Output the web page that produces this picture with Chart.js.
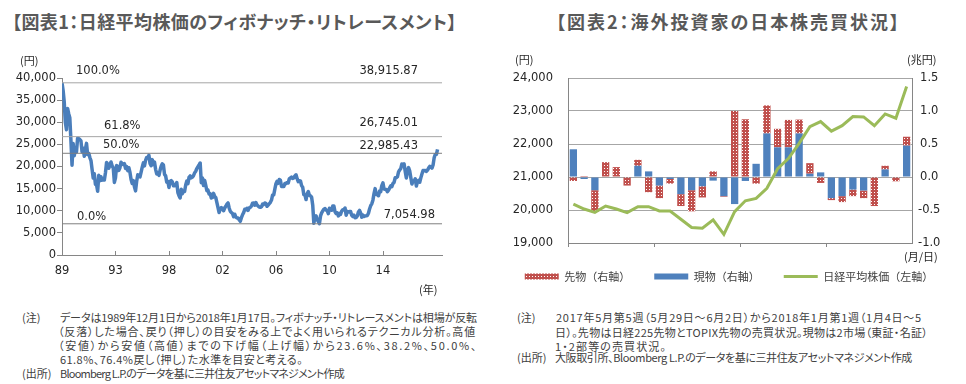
<!DOCTYPE html>
<html>
<head>
<meta charset="utf-8">
<script src="https://cdn.jsdelivr.net/npm/chart.js@4.4.1/dist/chart.umd.min.js"></script>
<style>
  body { margin:0; width:966px; height:384px; position:relative; overflow:hidden; background:#fff;
         font-family:"Noto Sans CJK JP", sans-serif; color:#404040; }
  .t { position:absolute; white-space:nowrap; line-height:1; }
  .ttl { font-weight:bold; font-size:18px; color:#595959; font-feature-settings:"palt"; }
  .note { font-size:11px; font-feature-settings:"palt"; }
  .unit { font-size:11px; color:#262626; }
  .yr { font-family:"DejaVu Sans"; font-size:11.5px; color:#262626; transform:translateX(-50%); }
  canvas { position:absolute; }
</style>
</head>
<body>
<canvas id="c1" width="470" height="240" style="left:0;top:50px;width:470px;height:240px"></canvas>
<canvas id="c2" width="486" height="242" style="left:486px;top:50px;width:486px;height:242px"></canvas>
<script>
// ---- 図表1 data (monthly, Dec 1989 .. Jan 2018) ----
const nikkeiMonthly = [
  38916,
  37189, 34592, 29980, 28300, 33131, 31940, 31036, 25978, 20300, 25194, 22455, 23849,
  23293, 26409, 26292, 26111, 25790, 23291, 24121, 22335, 23916, 25222, 22687, 22984,
  22023, 21339, 19346, 17391, 18348, 15952, 15910, 14400, 18000, 16767, 17684, 16925,
  17024, 16953, 18591, 20919, 20552, 19590, 20380, 21027, 20106, 19703, 16408, 17417,
  20229, 19997, 19112, 19725, 20974, 20644, 20449, 20629, 19564, 19990, 19076, 19723,
  18650, 17054, 16140, 16807, 15437, 14485, 16678, 18117, 17913, 17655, 18744, 19868,
  20813, 20125, 21407, 22041, 21956, 22531, 20693, 20167, 21556, 20467, 21020, 19361,
  18330, 18557, 18003, 19151, 20069, 20605, 20331, 18229, 17888, 16459, 16636, 15259,
  16628, 16831, 16527, 15641, 15671, 15831, 16379, 14108, 13406, 12880, 14884, 13842,
  14500, 14368, 15837, 16702, 16112, 17530, 17862, 17437, 17606, 17942, 18558, 18934,
  19540, 19960, 20337, 20800, 16332, 17411, 15727, 16861, 15747, 14540, 14649, 13786,
  13844, 12884, 12999, 13934, 13262, 12969, 11861, 10714, 9600, 10367, 10697, 10543,
  9998, 10588, 11025, 11493, 11764, 10622, 9878, 9620, 9383, 8640, 9216, 8579,
  8340, 8363, 7973, 7608, 8425, 9083, 9563, 10344, 10219, 10560, 10101, 10677,
  10784, 11042, 11715, 11762, 11236, 11859, 11326, 11082, 10824, 10771, 10899, 11489,
  11388, 11741, 11668, 11009, 11277, 11584, 11900, 12414, 13574, 13607, 14872, 16111,
  16650, 16205, 17060, 16906, 15467, 15505, 15457, 16141, 16128, 16399, 16274, 17226,
  17383, 17604, 17288, 17400, 17876, 18138, 17249, 16569, 16786, 16738, 15681, 15308,
  13592, 13603, 12526, 13850, 14339, 13481, 13377, 13073, 11260, 7163, 8512, 8860,
  7994, 7568, 7055, 8828, 9523, 9958, 10357, 10492, 10133, 10035, 9345, 10546,
  10198, 10126, 11090, 11057, 9769, 9383, 9537, 8824, 9369, 9202, 9937, 10229,
  10238, 10624, 9000, 9850, 9694, 9816, 9833, 8955, 8700, 8988, 8435, 8455,
  8803, 9723, 10084, 9521, 8543, 9007, 8695, 8840, 8870, 8928, 9446, 10395,
  11139, 11559, 12398, 13861, 15000, 13677, 13668, 13389, 14456, 14328, 15662, 16291,
  14915, 14841, 14828, 14304, 14632, 15162, 15621, 15425, 16174, 16414, 17460, 17451,
  17674, 18798, 19207, 19520, 20563, 20236, 20585, 18890, 17388, 19083, 19747, 19034,
  17518, 16027, 16759, 16666, 17235, 15576, 16569, 16887, 16450, 17425, 18308, 19114,
  19041, 19119, 18909, 19197, 19651, 20033, 19925, 19646, 20356, 22012, 22725, 22765,
  23868
];
const yearLabels = ['89', '93', '98', '02', '06', '10', '14'];
const yearStep = 48;          // months between year labels
const xMaxMonth = 341;
const fibLevels = [38915.87, 26745.01, 22985.43, 7054.98];
const fibNames = ['100.0%', '61.8%', '50.0%', '0.0%'];

// ---- 図表2 data (weekly) ----
const weeks = ['6/2','6/9','6/16','6/23','6/30','7/7','7/14','7/21','7/28','8/4','8/11','8/18','8/25','9/1','9/8','9/15',
               '9/22','9/29','10/6','10/13','10/20','10/27','11/3','11/10','11/17','11/24','12/1','12/8','12/15','12/22','12/29','1/5'];
const cashFlow = [0.42, -0.03, -0.2, 0, 0, 0, 0.17, 0.085, -0.13, -0.03, -0.26, -0.2, -0.14, -0.055, -0.29, -0.41,
                  -0.06, 0.2, 0.66, 0.45, 0.45, 0.66, 0.05, 0.07, -0.32, -0.29, -0.19, -0.205, 0, 0.115, 0, 0.475];
const futuresFlow = [-0.06, 0.015, -0.33, 0.225, 0.15, -0.13, 0.09, -0.23, -0.19, -0.07, -0.18, -0.32, -0.17, 0.085, -0.01, 1.0,
                     0.875, -0.1, 0.425, 0.28, 0.415, 0.21, 0.16, -0.09, -0.03, -0.09, -0.1, -0.115, -0.44, 0.055, -0.065, 0.135];
const nikkeiWeekly = [20180, 20030, 19930, 20120, 20030, 19920, 20100, 20100, 19970, 19970, 19720, 19470, 19450, 19700, 19260, 19950,
                      20280, 20350, 20660, 21250, 21560, 22020, 22525, 22680, 22390, 22555, 22830, 22820, 22555, 22910, 22780, 23740];

// ---- page text ----
function put(text, x, y, cls, w) {
  const el = document.createElement('div');
  el.className = 't ' + cls;
  el.textContent = text;
  document.body.appendChild(el);
  const fs = parseFloat(getComputedStyle(el).fontSize);
  el.style.left = x + 'px';
  el.style.top = (y - fs * 0.55) + 'px';
  if (w) {
    const cur = el.getBoundingClientRect().width;
    el.style.letterSpacing = ((w - cur) / [...text].length) + 'px';
  }
  return el;
}
put('【図表1：日経平均株価のフィボナッチ・リトレースメント】', 12, 22, 'ttl', 445);
put('【図表2：海外投資家の日本株売買状況】', 556, 22, 'ttl', 345);
put('(円)', 20, 61, 'unit');
put('(年)', 419, 290, 'unit');
put('(円)', 515, 60, 'unit');
put('(兆円)', 907, 60, 'unit');
put('(月/日)', 904, 257, 'unit');

put('(注)', 22, 318, 'note');
put('データは1989年12月1日から2018年1月17日。フィボナッチ・リトレースメントは相場が反転', 60, 318, 'note', 417);
put('（反落）した場合、戻り（押し）の目安をみる上でよく用いられるテクニカル分析。高値', 58, 332, 'note', 418);
put('（安値）から安値（高値）までの下げ幅（上げ幅）から23.6%、38.2%、50.0%、', 58, 346, 'note', 420);
put('61.8%、76.4%戻し（押し）た水準を目安と考える。', 60, 360, 'note', 243);
put('(出所)', 22, 374, 'note');
put('Bloomberg L.P.のデータを基に三井住友アセットマネジメント作成', 60, 374, 'note', 284);

put('(注)', 517, 318, 'note');
put('2017年5月第5週（5月29日～6月2日）から2018年1月第1週（1月4日～5', 556, 318, 'note', 366);
put('日）。先物は日経225先物とTOPIX先物の売買状況。現物は2市場（東証・名証）', 555, 333, 'note', 373);
put('1・2部等の売買状況。', 555, 347, 'note', 112);
put('(出所)', 517, 358, 'note');
put('大阪取引所、Bloomberg L.P.のデータを基に三井住友アセットマネジメント作成', 555, 358, 'note', 357);

// ---- chart 1 ----
const axisFont = { family: 'DejaVu Sans', size: 11.5 };
const axisGray = '#868686';

const fibText = {
  id: 'fibText',
  afterDraw(chart) {
    const { ctx, chartArea: a, scales: { x, y } } = chart;
    const nameDx = [14, 42, 41, 15], nameDy = [12, 11, 8, 7];
    const valDx = [24, 24, 24, 7], valDy = [12, 14, 7, 9];
    ctx.save();
    ctx.font = '11.5px "DejaVu Sans"';
    ctx.fillStyle = '#262626';
    ctx.textBaseline = 'middle';
    fibLevels.forEach((v, i) => {
      const py = y.getPixelForValue(v);
      ctx.textAlign = 'left';
      ctx.fillText(fibNames[i], a.left + nameDx[i], py - nameDy[i]);
      ctx.textAlign = 'right';
      ctx.fillText(v.toLocaleString('en-US', { minimumFractionDigits: 2 }), a.right - valDx[i], py - valDy[i]);
    });
    // short inward tick marks on the time axis
    ctx.strokeStyle = axisGray;
    ctx.lineWidth = 1;
    yearLabels.forEach((lab, i) => {
      const px = Math.round(x.getPixelForValue(i * yearStep)) + 0.5;
      ctx.beginPath();
      ctx.moveTo(px, a.bottom);
      ctx.lineTo(px, a.bottom - 4);
      ctx.stroke();
    });
    ctx.restore();
  }
};

const fibColors = ['#A6A6A6', '#A6A6A6', '#7F7F7F', '#7F7F7F'];
const fibSets = fibLevels.map((v, i) => ({
  data: [{ x: 0, y: v }, { x: xMaxMonth, y: v }],
  borderColor: fibColors[i], borderWidth: 1, pointRadius: 0
}));

const chart1 = new Chart(document.getElementById('c1'), {
  type: 'line',
  data: {
    datasets: [
      ...fibSets,
      { data: nikkeiMonthly.map((v, i) => ({ x: i, y: v })), borderColor: '#4A7EBB', borderWidth: 3.5,
        pointRadius: 0, tension: 0, borderJoinStyle: 'round' }
    ]
  },
  options: {
    responsive: false, animation: false, events: [],
    layout: { padding: { top: 28, right: 28, left: 0, bottom: 15 } },
    plugins: { legend: { display: false }, tooltip: { enabled: false } },
    scales: {
      x: {
        type: 'linear', min: 0, max: xMaxMonth,
        grid: { drawOnChartArea: false, drawTicks: false },
        border: { color: axisGray },
        ticks: { display: false },
        afterFit: s => { s.height = 20; }
      },
      y: {
        min: 0, max: 40000,
        grid: { drawOnChartArea: false, tickLength: 5, color: axisGray },
        border: { color: axisGray },
        ticks: { stepSize: 5000, padding: 1, font: axisFont, color: '#262626',
                 callback: v => v.toLocaleString('en-US') },
        afterFit: s => { s.width = 62; }
      }
    }
  },
  plugins: [fibText]
});

// year labels placed from the x scale of chart 1
const c1Top = 50;
yearLabels.forEach((lab, i) => {
  const px = chart1.scales.x.getPixelForValue(i * yearStep);
  put(lab, px, c1Top + chart1.chartArea.bottom + 16, 'yr');
});

// ---- chart 2 ----
const ctx2 = document.getElementById('c2').getContext('2d');
function dotPattern() {
  const c = document.createElement('canvas');
  c.width = 3; c.height = 3;
  const g = c.getContext('2d');
  g.fillStyle = '#C0504D'; g.fillRect(0, 0, 3, 3);
  g.fillStyle = '#ffffff'; g.fillRect(1, 1, 1, 1);
  return ctx2.createPattern(c, 'repeat');
}
const legendRank = { 1: 0, 0: 1, 2: 2 };

new Chart(ctx2, {
  data: {
    labels: weeks,
    datasets: [
      { type: 'bar', label: '現物（右軸）', data: cashFlow, yAxisID: 'y1', backgroundColor: '#4F81BD',
        barPercentage: 0.68, categoryPercentage: 1, pointStyle: 'rect' },
      { type: 'bar', label: '先物（右軸）', data: futuresFlow, yAxisID: 'y1', backgroundColor: dotPattern(),
        barPercentage: 0.68, categoryPercentage: 1, pointStyle: 'rect' },
      { type: 'line', label: '日経平均株価（左軸）', data: nikkeiWeekly, yAxisID: 'y', borderColor: '#9BBB59',
        backgroundColor: '#9BBB59', borderWidth: 3, pointRadius: 0, tension: 0, order: -1, pointStyle: 'line' }
    ]
  },
  options: {
    responsive: false, animation: false, events: [],
    layout: { padding: { top: 28, right: 0, left: 0, bottom: 0 } },
    plugins: {
      tooltip: { enabled: false },
      legend: {
        position: 'bottom',
        labels: { usePointStyle: true, pointStyleWidth: 34, boxHeight: 6, padding: 24, color: '#404040',
                  font: { family: 'Noto Sans CJK JP', size: 11 },
                  sort: (a, b) => legendRank[a.datasetIndex] - legendRank[b.datasetIndex] }
      }
    },
    scales: {
      x: {
        stacked: true, offset: true,
        grid: { offset: true, drawOnChartArea: false, tickLength: 4,
                color: c => c.index % 8 === 0 ? axisGray : 'rgba(0,0,0,0)' },
        border: { color: axisGray },
        ticks: { autoSkip: false, maxRotation: 0, minRotation: 0, padding: 3, font: axisFont, color: '#262626',
                 callback: (v, i) => i % 8 === 0 ? weeks[i] : '' },
        afterFit: s => { s.height = 4; }
      },
      y: {
        position: 'left', min: 19000, max: 24000,
        grid: { color: '#A6A6A6', drawTicks: false },
        border: { color: axisGray },
        ticks: { stepSize: 1000, padding: 15, font: axisFont, color: '#262626',
                 callback: v => v.toLocaleString('en-US') },
        afterFit: s => { s.width = 82; }
      },
      y1: {
        position: 'right', stacked: true, min: -1, max: 1.5,
        grid: { drawOnChartArea: false, drawTicks: false },
        border: { color: axisGray },
        ticks: { stepSize: 0.5, padding: 6, crossAlign: 'center', font: axisFont, color: '#262626',
                 callback: v => v.toFixed(1) },
        afterFit: s => { s.width = 60; }
      }
    }
  }
});
</script>
</body>
</html>
